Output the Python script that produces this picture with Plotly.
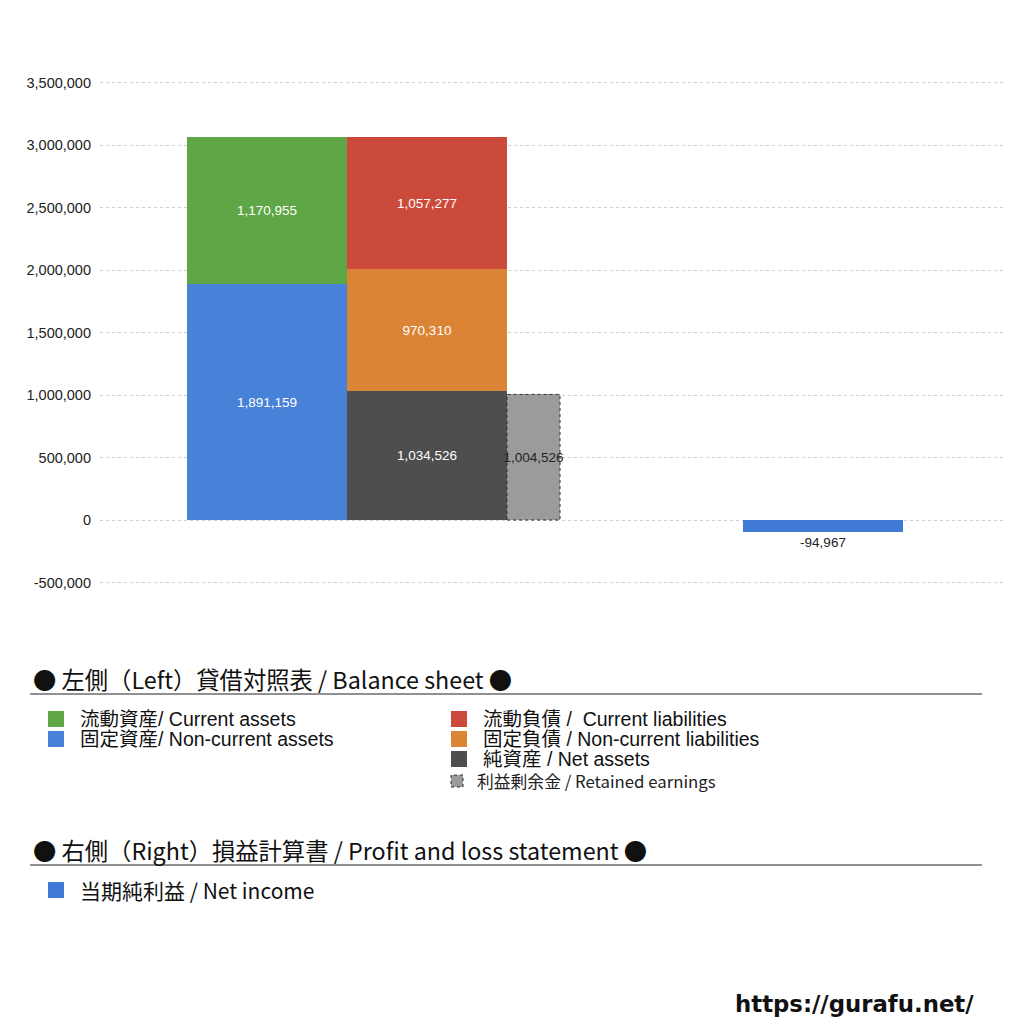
import plotly.graph_objects as go

# balance sheet (left) and P/L (right) values
current_assets = [1170955]
noncurrent_assets = [1891159]
current_liab = [1057277]
noncurrent_liab = [970310]
net_assets = [1034526]
retained_earnings = [1004526]
net_income = [-94967]

y_ticks = [-500000, 0, 500000, 1000000, 1500000, 2000000, 2500000, 3000000, 3500000]
y_tick_text = ["-500,000", "0", "500,000", "1,000,000", "1,500,000", "2,000,000",
               "2,500,000", "3,000,000", "3,500,000"]

# page has an 8px body margin, so the figure is drawn 8px in from the corner
OFF = 8
W, H = 1016, 1016
L, R, T = 92, 19, 62
PW = W - L - R
PH = 525
B = H - T - PH

FONT = "Noto Sans CJK JP"
ROW_FONT = "Liberation Sans, Noto Sans CJK JP"
NUM_FONT = "Liberation Sans"

# bar columns on a pixel-like x scale (0..PW)
col_w = 160
x_assets = 87 + col_w / 2
x_liab = 247 + col_w / 2
re_w = 53
x_re = 407 + re_w / 2
x_ni = 643 + col_w / 2


def fmt(v):
    return f"{v:,}"


def px(x):
    return (x - OFF - L) / PW


def py(y):
    return (H - B - (y - OFF)) / PH


fig = go.Figure()


def add_bar(x, w, vals, base, color, name, txtcolor="white", pos="inside"):
    fig.add_trace(go.Bar(
        x=[x], y=vals, base=base, width=w, name=name,
        marker=dict(color=color, line=dict(width=0)),
        text=[fmt(v) for v in vals], textposition=pos, textangle=0,
        insidetextanchor="middle", constraintext="none", cliponaxis=False,
        textfont=dict(family=NUM_FONT, size=13.5, color=txtcolor),
        hoverinfo="name+y",
    ))


add_bar(x_assets, col_w, noncurrent_assets, [0], "#4782d8", "固定資産")
add_bar(x_assets, col_w, current_assets, noncurrent_assets, "#5fa646", "流動資産")
add_bar(x_liab, col_w, net_assets, [0], "#4e4e4e", "純資産")
add_bar(x_liab, col_w, noncurrent_liab, net_assets, "#dc8436", "固定負債")
add_bar(x_liab, col_w, current_liab, [net_assets[0] + noncurrent_liab[0]], "#cc4a3b", "流動負債")
add_bar(x_re, re_w, retained_earnings, [0], "#9b9b9b", "利益剰余金", txtcolor="#222")
add_bar(x_ni, col_w, net_income, [0], "#3f7bd6", "当期純利益", txtcolor="#222", pos="outside")

# dotted outline around retained earnings
fig.add_shape(type="rect", xref="x", yref="y",
              x0=x_re - re_w / 2, x1=x_re + re_w / 2, y0=0, y1=retained_earnings[0],
              line=dict(color="#333", width=1, dash="dot"))

# custom legend
headers = [
    ("● 左側（Left）貸借対照表 / Balance sheet ●", 679, 694),
    ("● 右側（Right）損益計算書 / Profit and loss statement ●", 850, 865),
]
for txt, ty, ly in headers:
    fig.add_annotation(text=txt, xref="paper", yref="paper", x=px(31), y=py(ty),
                       xanchor="left", yanchor="middle", showarrow=False,
                       font=dict(family=FONT, size=23.3, color="#111"))
    fig.add_shape(type="line", xref="paper", yref="paper",
                  x0=px(30), x1=px(982), y0=py(ly), y1=py(ly),
                  line=dict(color="#222", width=1))

legend_items = [
    ("流動資産/ Current assets", "#5fa646", 48, 719),
    ("固定資産/ Non-current assets", "#4782d8", 48, 739),
    ("流動負債 /  Current liabilities", "#cc4a3b", 451, 719),
    ("固定負債 / Non-current liabilities", "#dc8436", 451, 739),
    ("純資産 / Net assets", "#4e4e4e", 451, 759),
]
for txt, col, lx, ly in legend_items:
    fig.add_shape(type="rect", xref="paper", yref="paper",
                  x0=px(lx), x1=px(lx + 16), y0=py(ly + 8), y1=py(ly - 8),
                  fillcolor=col, line=dict(width=0))
    fig.add_annotation(text=txt, xref="paper", yref="paper", x=px(lx + 30), y=py(ly),
                       xanchor="left", yanchor="middle", showarrow=False,
                       font=dict(family=ROW_FONT, size=19.5, color="#111"))

fig.add_shape(type="rect", xref="paper", yref="paper",
              x0=px(451), x1=px(463), y0=py(787), y1=py(775),
              fillcolor="#9b9b9b", line=dict(color="#333", width=1, dash="dot"))
fig.add_annotation(text="利益剰余金 / Retained earnings", xref="paper", yref="paper",
                   x=px(475), y=py(781), xanchor="left", yanchor="middle", showarrow=False,
                   font=dict(family=FONT, size=16.8, color="#222"))

fig.add_shape(type="rect", xref="paper", yref="paper",
              x0=px(48), x1=px(64), y0=py(898), y1=py(882),
              fillcolor="#3f7bd6", line=dict(width=0))
fig.add_annotation(text="当期純利益 / Net income", xref="paper", yref="paper",
                   x=px(78), y=py(890), xanchor="left", yanchor="middle", showarrow=False,
                   font=dict(family=FONT, size=21, color="#111"))

fig.add_annotation(text="<b>https://gurafu.net/</b>", xref="paper", yref="paper",
                   x=px(976), y=py(1004), xanchor="right", yanchor="middle", showarrow=False,
                   font=dict(family="DejaVu Sans", size=22.8, color="#111"))

fig.update_layout(
    width=W, height=H,
    margin=dict(l=L, r=R, t=T, b=B),
    paper_bgcolor="white", plot_bgcolor="white",
    barmode="overlay", showlegend=False,
    bargap=0,
)
fig.update_xaxes(range=[0, PW], showticklabels=False, showgrid=False,
                 zeroline=False, showline=False, ticks="")
fig.update_yaxes(range=[-600000, 3600000], tickvals=y_ticks, ticktext=y_tick_text,
                 showgrid=True, gridcolor="#cfcfcf", griddash="dot", gridwidth=1,
                 zeroline=False, showline=False, ticks="", ticklabelstandoff=8,
                 tickfont=dict(family=NUM_FONT, size=14.5, color="#222"))

fig.write_html("out.html")
